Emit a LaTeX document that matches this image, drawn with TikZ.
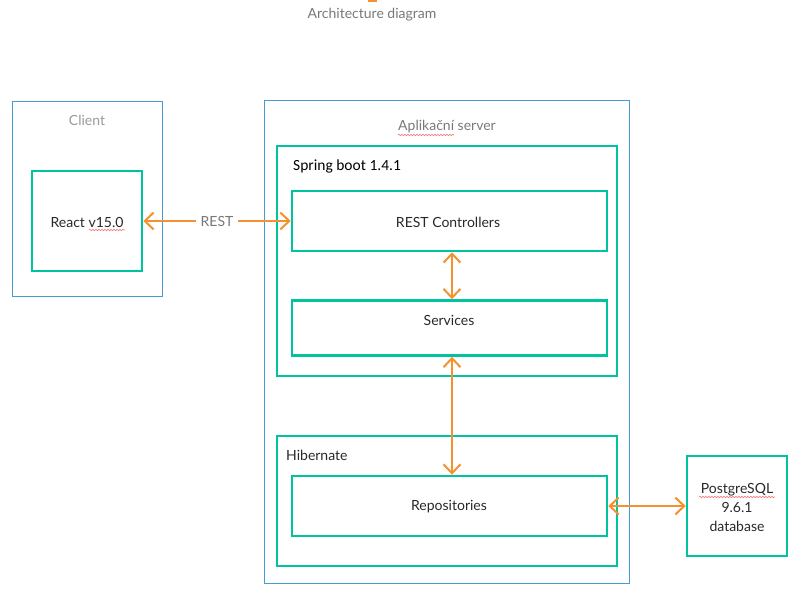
\documentclass[tikz,border=0pt]{standalone}
\usepackage{fontspec}
\setmainfont{Lato}
\newfontfamily\calib{Carlito}
\usetikzlibrary{arrows.meta,decorations.pathmorphing}
\definecolor{teal1}{RGB}{0,196,160}
\definecolor{blue1}{RGB}{70,155,210}
\definecolor{orng}{RGB}{245,146,48}
\definecolor{gtext}{RGB}{120,120,120}
\definecolor{dtext}{RGB}{40,40,40}
\definecolor{squig}{RGB}{240,120,120}
\tikzset{
  outerbox/.style={draw=blue1,line width=1pt,inner sep=0pt},
  innerbox/.style={draw=teal1,line width=2.5pt,inner sep=0pt},
  lbl/.style={font=\fontsize{14}{16}\selectfont,text=dtext,inner sep=0pt},
  glbl/.style={font=\fontsize{14}{16}\selectfont,text=gtext,inner sep=0pt},
  conn/.style={draw=orng,line width=2pt,{Straight Barb[length=9pt,width=17pt,line width=2pt]}-{Straight Barb[length=9pt,width=17pt,line width=2pt]}},
  squiggle/.style={draw=squig,line width=0.6pt,decorate,decoration={snake,amplitude=0.8pt,segment length=3pt}}
}
\begin{document}
\begin{tikzpicture}[x=1pt,y=-1pt]
\useasboundingbox (0,0) rectangle (811,603);
% tiny orange mark at top
\fill[orng] (368,0) rectangle (377,1.5);
\node[glbl] (title) at (372,15) {Architecture diagram};
% client
\node[outerbox,minimum width=150pt,minimum height=195pt] (client) at (87,199) {};
\node[glbl,text=gray!80] (clientlbl) at (87,120) {Client};
\node[innerbox,minimum width=110pt,minimum height=100pt] (react) at (87,221) {};
\node[lbl] (reacttxt) at (87,222) {React v15.0};
% app server
\node[outerbox,minimum width=365pt,minimum height=483pt] (app) at (446.5,341.5) {};
\node[glbl,text=gray!95!black] (applbl) at (447,127) {Aplikační server};
\node[innerbox,minimum width=340pt,minimum height=230pt] (spring) at (447,261) {};
\node[font=\calib\fontsize{15.5}{18}\selectfont,anchor=west,inner sep=0pt] (springlbl) at (293,166) {Spring boot 1.4.1};
\node[innerbox,minimum width=315pt,minimum height=60pt] (restc) at (449.5,221) {};
\node[lbl] (restctxt) at (448,222) {REST Controllers};
\node[innerbox,minimum width=315pt,minimum height=55pt] (services) at (449.5,328) {};
\node[lbl] (servtxt) at (449,320) {Services};
\node[innerbox,minimum width=340pt,minimum height=130pt] (hib) at (447,501) {};
\node[lbl,anchor=west] (hiblbl) at (286,455) {Hibernate};
\node[innerbox,minimum width=315pt,minimum height=60pt] (repos) at (449.5,506) {};
\node[lbl] (repostxt) at (449,507) {Repositories};
% database
\node[innerbox,minimum width=100pt,minimum height=100pt] (pg) at (737,506) {};
\node[lbl,align=center,font=\fontsize{14}{19}\selectfont] (pgtxt) at (737,507) {PostgreSQL\\9.6.1\\database};
% connectors
\draw[conn] (react.east) -- node[glbl,fill=white,inner xsep=5pt,inner ysep=2pt] (restlbl) {REST} (restc.west);
\draw[conn] ([xshift=2.5pt]restc.south) -- ([xshift=2.5pt]services.north);
\draw[conn] ([xshift=2.5pt]services.south) -- ([xshift=2.5pt]repos.north);
\draw[conn] (repos.east) -- (pg.west);
% spell-check squiggles
\coordinate (s1a) at (89,230); \coordinate (s1b) at (125,230);
\draw[squiggle] (s1a) -- (s1b);
\coordinate (s2a) at (398,135); \coordinate (s2b) at (454,135);
\draw[squiggle] (s2a) -- (s2b);
\coordinate (s3a) at (699,497); \coordinate (s3b) at (775,497);
\draw[squiggle] (s3a) -- (s3b);
\end{tikzpicture}
\end{document}
